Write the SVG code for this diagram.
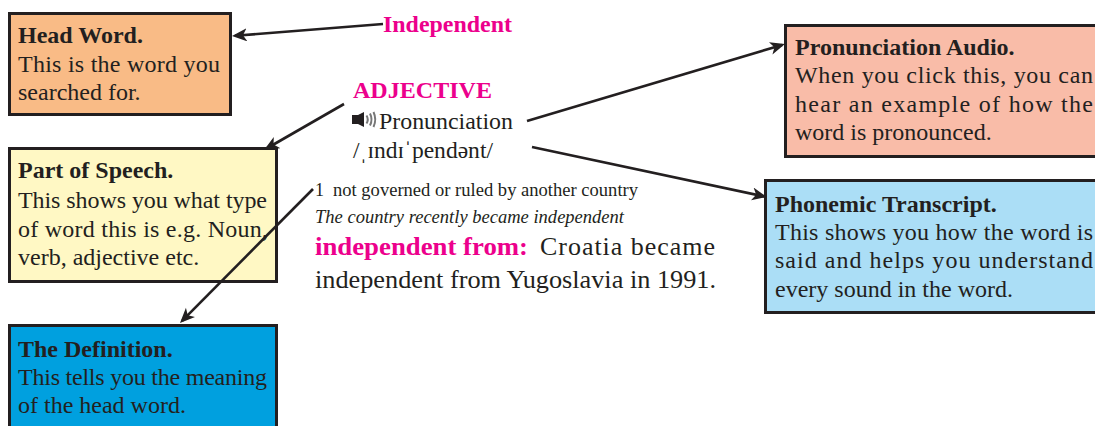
<svg xmlns="http://www.w3.org/2000/svg" width="1095" height="426" viewBox="0 0 1095 426">
<style>
.box{stroke:#231f20;stroke-width:3}
.t{font-family:"Liberation Serif","Times New Roman",serif;font-size:24px;fill:#231f20}
.b{font-weight:bold}
.m{fill:#ec008c}
.sm{font-size:18px}
.lg{font-size:26px}
.con{stroke:#231f20;stroke-width:2.6;fill:none;marker-end:url(#ah)}
.wave{stroke:#777;stroke-width:2;fill:none}
</style>
<defs>
<marker id="ah" markerUnits="userSpaceOnUse" markerWidth="18" markerHeight="14" refX="12" refY="6.5" orient="auto">
<path d="M0,0 L15,6.5 L0,13 L4,6.5 Z" fill="#231f20"/>
</marker>
</defs>
<rect width="1095" height="426" fill="#ffffff"/>

<g id="head-word">
<rect class="box" x="9.5" y="13.5" width="221" height="101" fill="#f9bb86"/>
<text class="t b" x="18" y="43">Head Word.</text>
<text class="t" x="18" y="71.5" textLength="202" lengthAdjust="spacing">This is the word you</text>
<text class="t" x="18" y="100">searched for.</text>
</g>

<g id="part-of-speech">
<rect class="box" x="9.5" y="148.5" width="267" height="133" fill="#fff8c4"/>
<text class="t b" x="18" y="178">Part of Speech.</text>
<text class="t" x="18" y="208" textLength="249" lengthAdjust="spacing">This shows you what type</text>
<text class="t" x="18" y="237" textLength="250" lengthAdjust="spacing">of word this is e.g. Noun,</text>
<text class="t" x="18" y="265">verb, adjective etc.</text>
</g>

<g id="definition">
<rect class="box" x="9.5" y="325.5" width="267" height="110" fill="#00a0df"/>
<text class="t b" x="18" y="357">The Definition.</text>
<text class="t" x="18" y="385" textLength="249" lengthAdjust="spacing">This tells you the meaning</text>
<text class="t" x="18" y="413">of the head word.</text>
</g>

<g id="pronunciation-audio">
<rect class="box" x="785.5" y="25.5" width="320" height="131" fill="#f9bca8"/>
<text class="t b" x="795" y="55">Pronunciation Audio.</text>
<text class="t" x="795" y="83" textLength="298" lengthAdjust="spacing">When you click this, you can</text>
<text class="t" x="795" y="112" textLength="298" lengthAdjust="spacing">hear an example of how the</text>
<text class="t" x="795" y="140">word is pronounced.</text>
</g>

<g id="phonemic-transcript">
<rect class="box" x="765.5" y="180.5" width="340" height="132" fill="#abdef6"/>
<text class="t b" x="775" y="212">Phonemic Transcript.</text>
<text class="t" x="775" y="240" textLength="318" lengthAdjust="spacing">This shows you how the word is</text>
<text class="t" x="775" y="268" textLength="318" lengthAdjust="spacing">said and helps you understand</text>
<text class="t" x="775" y="297">every sound in the word.</text>
</g>

<g id="entry">
<text class="t b m" x="383" y="32" textLength="129" lengthAdjust="spacingAndGlyphs">Independent</text>
<text class="t b m" x="353" y="98" textLength="139" lengthAdjust="spacingAndGlyphs">ADJECTIVE</text>
<g id="speaker-icon">
<rect x="352" y="115" width="6" height="9" fill="#231f20"/>
<path d="M357,115.5 L364,112 L364,127 L357,123.5 Z" fill="#231f20"/>
<path class="wave" d="M366.5,115.5 Q369,119.5 366.5,123.5"/>
<path class="wave" d="M370,113.5 Q373,119.5 370,125.5"/>
<path class="wave" d="M373.5,112 Q377,119.5 373.5,127"/>
</g>
<text class="t" x="379" y="129" textLength="134" lengthAdjust="spacingAndGlyphs">Pronunciation</text>
<text class="t" x="353" y="158" textLength="140" lengthAdjust="spacingAndGlyphs">/ˌɪndɪˈpendənt/</text>
<text class="t sm" x="315" y="196">1</text>
<text class="t sm" x="333" y="196" textLength="305" lengthAdjust="spacingAndGlyphs">not governed or ruled by another country</text>
<text class="t sm" x="315" y="223" font-style="italic" textLength="309" lengthAdjust="spacingAndGlyphs">The country recently became independent</text>
<text class="t lg b m" x="315" y="255" textLength="213" lengthAdjust="spacingAndGlyphs">independent from:</text>
<text class="t lg" x="540" y="255" textLength="175" lengthAdjust="spacing">Croatia became</text>
<text class="t lg" x="315" y="288" textLength="401" lengthAdjust="spacingAndGlyphs">independent from Yugoslavia in 1991.</text>
</g>

<g id="connectors">
<line class="con" x1="383" y1="24" x2="235" y2="35.8"/>
<line class="con" x1="344" y1="104" x2="266.6" y2="148.5"/>
<line class="con" x1="313" y1="189" x2="182.1" y2="320.9"/>
<line class="con" x1="527" y1="121" x2="782.1" y2="44.9"/>
<line class="con" x1="532" y1="147" x2="764" y2="196.4"/>
</g>
</svg>
